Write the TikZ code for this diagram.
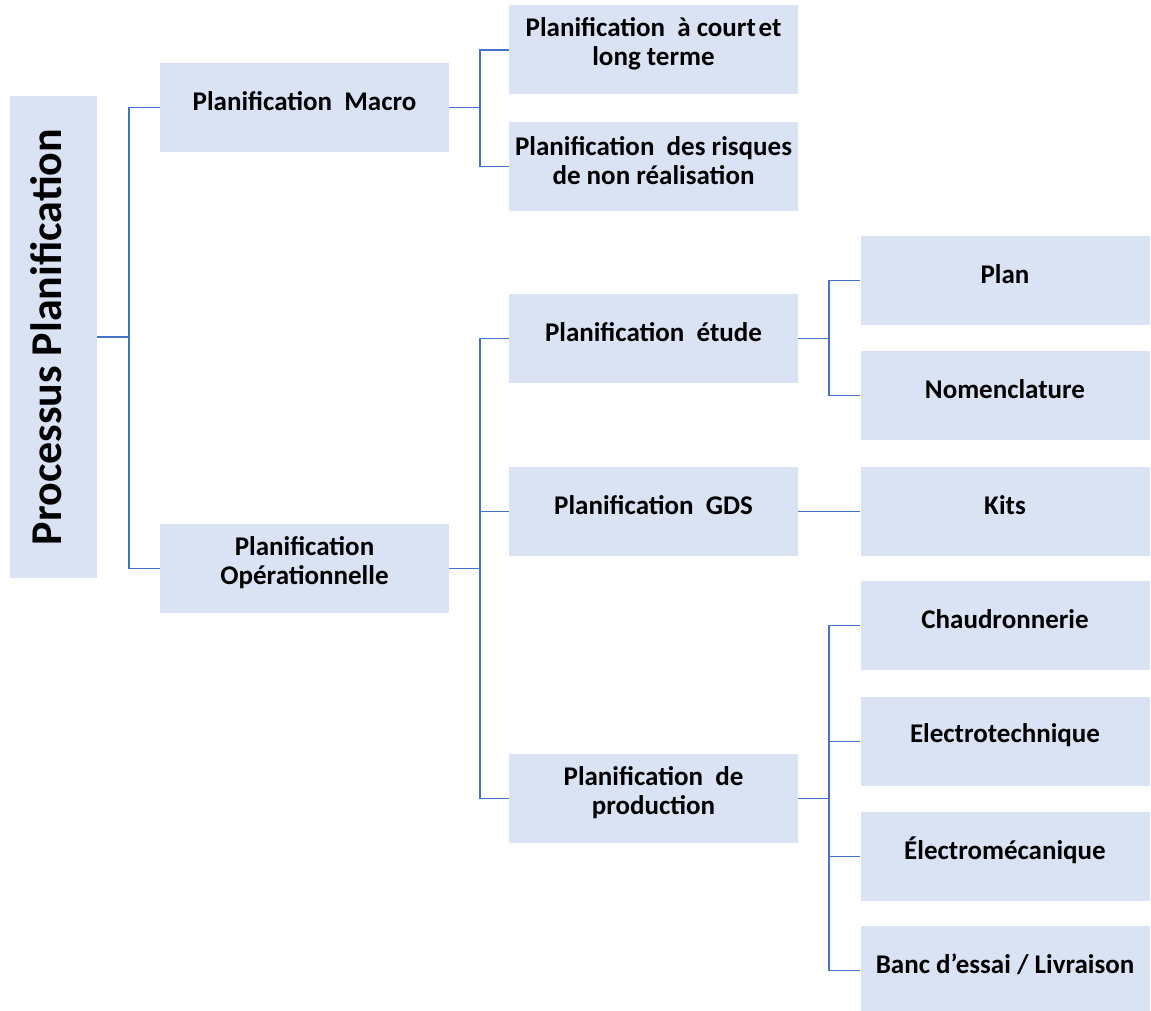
\documentclass[tikz,border=0pt]{standalone}
\usepackage{fontspec}
\setmainfont{Carlito}
\definecolor{boxfill}{HTML}{DAE3F3}
\definecolor{linkblue}{HTML}{4472C4}
\tikzset{
  box/.style={rectangle, fill=boxfill, draw=none, inner sep=0pt,
              minimum width=289pt, minimum height=89pt},
  txt/.style={inner sep=0pt, align=center, font=\fontsize{27}{29.5}\selectfont\bfseries},
  link/.style={draw=linkblue, line width=1.4pt},
}
% box with its caption set slightly above the middle
\newcommand{\blk}[4]{%
  \node[box] (#1) at (#2,#3) {};
  \node[txt] (#1-t) at ([yshift=6pt]#1.center) {#4};}
\begin{document}
\begin{tikzpicture}[x=1pt,y=-1pt]
\useasboundingbox (0,0) rectangle (1151,1011);

% root
\node[box, minimum width=87pt, minimum height=482pt] (root) at (53.5,337) {};
\node[inner sep=0pt, rotate=90, font=\fontsize{44}{50}\selectfont\bfseries] (root-t) at ([xshift=-7pt]root.center) {Processus Planification};

% level 1
\blk{macro}{304.5}{107.5}{Planification~ Macro}
\blk{oper}{304.5}{568.5}{Planification\\Opérationnelle}

% level 2
\blk{court}{653.5}{50}{Planification~ à court\hspace{0.1em}et\\long terme}
\blk{risq}{653.5}{166.5}{Planification~ des risques\\de non réalisation}
\blk{etude}{653.5}{338.5}{Planification~ étude}
\blk{gds}{653.5}{511.5}{Planification~ GDS}
\blk{prod}{653.5}{798.5}{Planification~ de\\production}

% level 3
\blk{plan}{1005}{280.5}{Plan}
\blk{nomen}{1005}{395.5}{Nomenclature}
\blk{kits}{1005}{511.5}{Kits}
\blk{chaud}{1005}{625.5}{Chaudronnerie}
\blk{elect}{1005}{741.5}{Electrotechnique}
\blk{emeca}{1005}{856.5}{Électromécanique}
\blk{banc}{1005}{970.5}{Banc d’essai / Livraison}

% fork points
\coordinate (f0) at (129,337);
\coordinate (f1) at (480,107.5);
\coordinate (f2) at (480,568.5);
\coordinate (f3) at (829,338.5);
\coordinate (f4) at (829,798.5);

% connectors
\draw[link] (root.east) -- (f0);
\draw[link] (f0) |- (macro.west);
\draw[link] (f0) |- (oper.west);

\draw[link] (macro.east) -- (f1);
\draw[link] (f1) |- (court.west);
\draw[link] (f1) |- (risq.west);

\draw[link] (oper.east) -- (f2);
\draw[link] (f2) |- (etude.west);
\draw[link] (f2) |- (gds.west);
\draw[link] (f2) |- (prod.west);

\draw[link] (etude.east) -- (f3);
\draw[link] (f3) |- (plan.west);
\draw[link] (f3) |- (nomen.west);

\draw[link] (gds.east) -- (kits.west);

\draw[link] (prod.east) -- (f4);
\draw[link] (f4) |- (chaud.west);
\draw[link] (f4) |- (elect.west);
\draw[link] (f4) |- (emeca.west);
\draw[link] (f4) |- (banc.west);
\end{tikzpicture}
\end{document}
